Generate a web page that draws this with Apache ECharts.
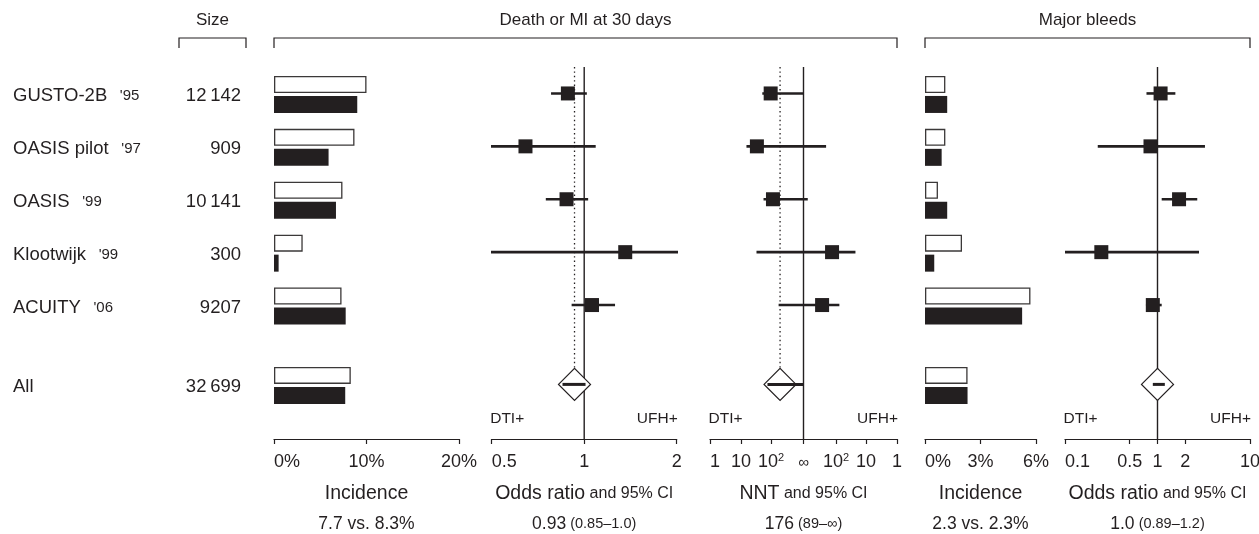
<!DOCTYPE html>
<html><head><meta charset="utf-8">
<script src="https://cdn.jsdelivr.net/npm/echarts@6/dist/echarts.min.js"></script>
<style>html,body{margin:0;padding:0;background:#fff}#c{width:1259px;height:534px}</style>
</head><body><div id="c"></div>
<script>
// ---------------- data ----------------
const trials = ['GUSTO-2B', 'OASIS pilot', 'OASIS', 'Klootwijk', 'ACUITY'];
const trialYears = ["'95", "'97", "'99", "'99", "'06"];
const trialSizes = ['12\u2009142', '909', '10\u2009141', '300', '9207'];
const pooledName = 'All';
const pooledSize = '32\u2009699';

// Death or MI at 30 days: incidence (%), last value = All
const deathUFH = [10.0, 8.7, 7.4, 3.1, 7.3, 8.3];
const deathDTI = [9.0, 5.9, 6.7, 0.5, 7.75, 7.7];
// odds ratio and 95% CI
const deathOR   = [0.885, 0.644, 0.876, 1.36, 1.06];
const deathORlo = [0.78, 0.49, 0.75, 0.49, 0.91];
const deathORhi = [1.02, 1.09, 1.03, 2.02, 1.26];
const deathORpooled = [0.93, 0.85, 1.01];
// NNT (negative = favours DTI, positive = favours UFH)
const deathNNT   = [-97, -33, -117, 138, 339];
const deathNNTlo = [-50, -15, -55, -32, -189];
const deathNNThi = [Infinity, 232, 2700, 22, 76];
const deathNNTpooled = [-215, -75, Infinity];

// Major bleeds: incidence (%), last value = All
const bleedUFH = [1.1, 1.1, 0.7, 2.0, 5.7, 2.3];
const bleedDTI = [1.2, 0.9, 1.2, 0.5, 5.25, 2.3];
const bleedOR   = [1.08, 0.84, 1.71, 0.247, 0.89];
const bleedORlo = [0.76, 0.226, 1.11, 0.098, 0.75];
const bleedORhi = [1.56, 3.26, 2.69, 2.81, 1.11];
const bleedORpooled = [1.0, 0.89, 1.2];

// ticks
const incDeathTicks = [0, 10, 20];
const incBleedTicks = [0, 3, 6];
const orDeathTicks = [0.5, 1, 2];
const orBleedTicks = [0.1, 0.5, 1, 2, 10];
const nntTicks = [-1, -10, -100, Infinity, 100, 10, 1];
const nntTickLabels = ['1', '10', '{b|10}{s|2}', '{i|\u221E}', '{b|10}{s|2}', '10', '1'];

// texts
const headers = ['Size', 'Death or MI at 30 days', 'Major bleeds'];
const sideLabels = ['DTI+', 'UFH+'];
const titleInc = 'Incidence';
const titleOR = ['Odds ratio', 'and 95% CI'];
const titleNNT = ['NNT', 'and 95% CI'];
const statDeathInc = '7.7 vs. 8.3%';
const statDeathOR = ['0.93', '(0.85\u20131.0)'];
const statNNT = ['176', '(89\u2013\u221E)'];
const statBleedInc = '2.3 vs. 2.3%';
const statBleedOR = ['1.0', '(0.89\u20131.2)'];

// ---------------- layout / style ----------------
const FONT = "'Liberation Sans', Arial, Helvetica, sans-serif";
const INK = '#231f20';
const TOP = 67, GRID_H = 372, ROW_UNIT = 52.9;
const Y_MIN = -0.5, Y_MAX = -0.5 + GRID_H / ROW_UNIT;
const pooledRow = trials.length + 0.5;
const panels = [
  {left: 274, width: 185},
  {left: 491.7, width: 185},
  {left: 710, width: 187},
  {left: 925, width: 111},
  {left: 1065, width: 185}
];
const lg = Math.log10;
const nntX = n => (!isFinite(n) ? 0 : Math.sign(n) * Math.log10(1 + 1000 / Math.abs(n)));
const rowOf = i => (i >= trials.length ? pooledRow : i);

function near(arr, v) { let k = 0, d = 1e9; arr.forEach((a, i) => { const e = Math.abs(a - v); if (e < d) { d = e; k = i; } }); return k; }

const rich = {
  t: {fontSize: 19.5, lineHeight: 30, color: INK, fontFamily: FONT},
  s: {fontSize: 16, lineHeight: 30, color: INK, fontFamily: FONT},
  v: {fontSize: 17.5, lineHeight: 30, color: INK, fontFamily: FONT},
  p: {fontSize: 14.5, lineHeight: 30, color: INK, fontFamily: FONT}
};
const tickRich = {
  b: {fontSize: 18, lineHeight: 20, color: INK, fontFamily: FONT},
  s: {fontSize: 11, lineHeight: 12, verticalAlign: 'top', color: INK, fontFamily: FONT},
  i: {fontSize: 15, lineHeight: 20, padding: [2, 0, 0, 0], color: INK, fontFamily: FONT}
};
const rowRich = {
  n: {fontSize: 18.5, color: INK, fontFamily: FONT},
  y: {fontSize: 15, color: INK, fontFamily: FONT}
};

function xAx(g, min, max, ticks, fmt, name) {
  return {
    type: 'value', gridIndex: g, min, max, position: 'bottom',
    axisLine: {show: true, onZero: false, lineStyle: {color: INK, width: 1.2}},
    axisTick: {show: true, length: 5, customValues: ticks, lineStyle: {color: INK, width: 1.2}},
    axisLabel: {color: INK, fontFamily: FONT, fontSize: 18, lineHeight: 20, margin: 13, customValues: ticks,
      formatter: fmt, alignMinLabel: 'left', rich: tickRich},
    splitLine: {show: false},
    name, nameLocation: 'middle', nameGap: 40,
    nameTextStyle: {color: INK, fontFamily: FONT, rich}
  };
}
function yAx(g) {
  return {type: 'value', gridIndex: g, min: Y_MIN, max: Y_MAX, inverse: true, show: false};
}

const xAxes = [
  xAx(0, 0, 20, incDeathTicks, v => v + '%', `{t|${titleInc}}\n{v|${statDeathInc}}`),
  xAx(1, lg(0.5), lg(2), orDeathTicks.map(lg), v => String(orDeathTicks[near(orDeathTicks.map(lg), v)]),
      `{t|${titleOR[0]}}{s| ${titleOR[1]}}\n{v|${statDeathOR[0]}}{p| ${statDeathOR[1]}}`),
  xAx(2, nntX(-1), nntX(1), nntTicks.map(nntX), v => nntTickLabels[near(nntTicks.map(nntX), v)],
      `{t|${titleNNT[0]}}{s| ${titleNNT[1]}}\n{v|${statNNT[0]}}{p| ${statNNT[1]}}`),
  xAx(3, 0, 6, incBleedTicks, v => v + '%', `{t|${titleInc}}\n{v|${statBleedInc}}`),
  xAx(4, lg(0.1), lg(10), orBleedTicks.map(lg), v => String(orBleedTicks[near(orBleedTicks.map(lg), v)]),
      `{t|${titleOR[0]}}{s| ${titleOR[1]}}\n{v|${statBleedOR[0]}}{p| ${statBleedOR[1]}}`)
];
const rowTicks = trials.map((t, i) => i).concat([pooledRow]);
const yAxes = [0, 1, 2, 3, 4].map(yAx).concat([
  { // trial names
    type: 'value', gridIndex: 0, min: Y_MIN, max: Y_MAX, inverse: true, position: 'left',
    axisLine: {show: false, onZero: false}, axisTick: {show: false}, splitLine: {show: false},
    axisLabel: {
      show: true, customValues: rowTicks, align: 'left', margin: panels[0].left - 13, padding: [5, 0, 0, 0],
      formatter: v => { const i = near(rowTicks, v); return i < trials.length ? `{n|${trials[i]} }{y|\u2002${trialYears[i]}}` : `{n|${pooledName}}`; },
      rich: rowRich
    }
  },
  { // sizes
    type: 'value', gridIndex: 0, min: Y_MIN, max: Y_MAX, inverse: true, position: 'left',
    axisLine: {show: false, onZero: false}, axisTick: {show: false}, splitLine: {show: false},
    axisLabel: {
      show: true, customValues: rowTicks, align: 'right', margin: panels[0].left - 241, padding: [5, 0, 0, 0],
      formatter: v => { const i = near(rowTicks, v); return `{n|${i < trials.length ? trialSizes[i] : pooledSize}}`; },
      rich: rowRich
    }
  }
]);

const grids = panels.map(p => ({left: p.left, width: p.width, top: TOP, height: GRID_H, containLabel: false, outerBoundsMode: 'none'}));

// ---------------- series builders ----------------
function barSeries(g, ufh, dti) {
  return {
    type: 'custom', xAxisIndex: g, yAxisIndex: g, silent: true, z: 2,
    data: ufh.map((u, i) => [rowOf(i), u, dti[i]]),
    renderItem: (params, api) => {
      const row = api.value(0);
      const o = api.coord([0, row]);
      const a = api.coord([api.value(1), row]);
      const b = api.coord([api.value(2), row]);
      return {type: 'group', children: [
        {type: 'rect', shape: {x: o[0] + 0.65, y: o[1] - 16.85, width: Math.max(0, a[0] - o[0] - 1.3), height: 15.7},
         style: {fill: '#fff', stroke: '#3b3838', lineWidth: 1.3}},
        {type: 'rect', shape: {x: o[0], y: o[1] + 2.5, width: b[0] - o[0], height: 17}, style: {fill: INK}}
      ]};
    }
  };
}
function vline(g, x, y0, y1, dotted) {
  return {
    type: 'custom', xAxisIndex: g, yAxisIndex: g, silent: true, z: 1, clip: false,
    data: [[x, y0, y1]],
    renderItem: (params, api) => {
      const a = api.coord([api.value(0), api.value(1)]);
      const b = api.coord([api.value(0), api.value(2)]);
      return {type: 'line', shape: {x1: a[0], y1: a[1], x2: b[0], y2: b[1]},
        style: dotted ? {stroke: INK, lineWidth: 1.3, lineDash: [1.4, 3]} : {stroke: INK, lineWidth: 1.4}};
    }
  };
}
function ciSeries(g, rows, lw, z) {
  return {
    type: 'custom', xAxisIndex: g, yAxisIndex: g, silent: true, z, clip: true,
    data: rows,
    renderItem: (params, api) => {
      const a = api.coord([api.value(0), api.value(2)]);
      const b = api.coord([api.value(1), api.value(2)]);
      return {type: 'line', shape: {x1: a[0], y1: a[1], x2: b[0], y2: b[1]}, style: {stroke: INK, lineWidth: lw}};
    }
  };
}
function squares(g, pts) {
  return {type: 'scatter', xAxisIndex: g, yAxisIndex: g, silent: true, z: 4, symbol: 'rect', symbolSize: 14,
    itemStyle: {color: INK, opacity: 1}, data: pts};
}
function diamond(g, x) {
  return {
    type: 'custom', xAxisIndex: g, yAxisIndex: g, silent: true, z: 5, clip: false,
    data: [[x, pooledRow]],
    renderItem: (params, api) => {
      const c = api.coord([api.value(0), api.value(1)]);
      const h = 16;
      return {type: 'polygon', shape: {points: [[c[0] - h, c[1]], [c[0], c[1] - h], [c[0] + h, c[1]], [c[0], c[1] + h]]},
        style: {fill: '#fff', stroke: INK, lineWidth: 1.2}};
    }
  };
}
const nullEffect = {1: 1, 2: Infinity, 4: 1};
function forest(g, tx, est, lo, hi, pooled, dotted) {
  const out = [];
  out.push(vline(g, tx(nullEffect[g]), Y_MIN, Y_MAX, false));
  if (dotted) out.push(vline(g, tx(pooled[0]), Y_MIN, pooledRow, true));
  out.push(ciSeries(g, est.map((e, i) => [tx(lo[i]), tx(hi[i]), i]), 2.6, 3));
  out.push(squares(g, est.map((e, i) => [tx(e), i])));
  out.push(diamond(g, tx(pooled[0])));
  out.push(ciSeries(g, [[tx(pooled[1]), tx(pooled[2]), pooledRow]], 3, 6));
  return out;
}

const series = [].concat(
  [barSeries(0, deathUFH, deathDTI)],
  forest(1, lg, deathOR, deathORlo, deathORhi, deathORpooled, true),
  forest(2, nntX, deathNNT, deathNNTlo, deathNNThi, deathNNTpooled, true),
  [barSeries(3, bleedUFH, bleedDTI)],
  forest(4, lg, bleedOR, bleedORlo, bleedORhi, bleedORpooled, false)
);

// ---------------- annotations ----------------
const graphic = [];
const brackets = [
  {text: headers[0], x0: 179, x1: 246},
  {text: headers[1], x0: panels[0].left, x1: panels[2].left + panels[2].width},
  {text: headers[2], x0: panels[3].left, x1: panels[4].left + panels[4].width}
];
brackets.forEach(b => {
  graphic.push({type: 'text', x: (b.x0 + b.x1) / 2, y: 20, silent: true,
    style: {text: b.text, fill: INK, fontFamily: FONT, fontSize: 17, align: 'center', verticalAlign: 'middle'}});
  graphic.push({type: 'polyline', silent: true,
    shape: {points: [[b.x0, 48], [b.x0, 38], [b.x1, 38], [b.x1, 48]]},
    style: {stroke: INK, lineWidth: 1.2, fill: null}});
});
[1, 2, 4].forEach(g => {
  const p = panels[g];
  graphic.push({type: 'text', x: p.left - 1.5, y: 419, silent: true,
    style: {text: sideLabels[0], fill: INK, fontFamily: FONT, fontSize: 15.5, align: 'left', verticalAlign: 'middle'}});
  graphic.push({type: 'text', x: p.left + p.width + 1, y: 419, silent: true,
    style: {text: sideLabels[1], fill: INK, fontFamily: FONT, fontSize: 15.5, align: 'right', verticalAlign: 'middle'}});
});

const chart = echarts.init(document.getElementById('c'), null, {renderer: 'canvas'});
chart.setOption({
  animation: false,
  backgroundColor: '#fff',
  textStyle: {fontFamily: FONT, color: INK},
  grid: grids,
  xAxis: xAxes,
  yAxis: yAxes,
  series,
  graphic
});
</script>
</body></html>
